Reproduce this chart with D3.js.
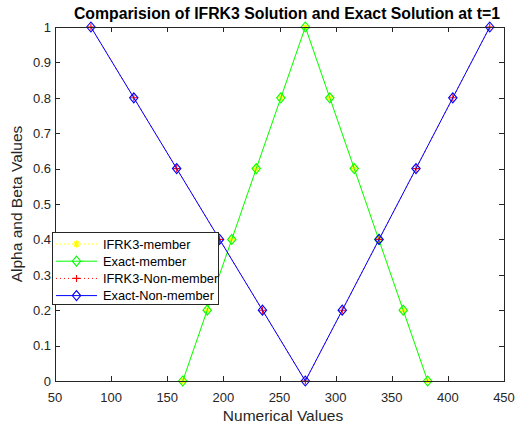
<!DOCTYPE html>
<html>
<head>
<meta charset="utf-8">
<script src="https://cdn.jsdelivr.net/npm/d3@7"></script>
<style>
  body { margin: 0; background: #fff; }
  svg { font-family: Arial, "Liberation Sans", sans-serif; }
</style>
</head>
<body>
<div id="chart"></div>
<script>
// values
const memberX = [163.8, 185.6, 207.5, 229.3, 251.2, 273.0, 294.8, 316.6, 338.4, 360.2, 382.0];
const memberIFRK3 = [0, 0.2, 0.4, 0.6, 0.8, 1, 0.8, 0.6, 0.4, 0.2, 0];
const memberExact = [0, 0.2, 0.4, 0.6, 0.8, 1, 0.8, 0.6, 0.4, 0.2, 0];
const nonMemberX = [82.0, 120.2, 158.4, 196.6, 234.8, 273.0, 305.9, 338.7, 371.6, 404.4, 437.3];
const nonMemberIFRK3 = [1, 0.8, 0.6, 0.4, 0.2, 0, 0.2, 0.4, 0.6, 0.8, 1];
const nonMemberExact = [1, 0.8, 0.6, 0.4, 0.2, 0, 0.2, 0.4, 0.6, 0.8, 1];
const xTicks = [50, 100, 150, 200, 250, 300, 350, 400, 450];
const yTicks = [0, 0.1, 0.2, 0.3, 0.4, 0.5, 0.6, 0.7, 0.8, 0.9, 1];
const seriesNames = ["IFRK3-member", "Exact-member", "IFRK3-Non-member", "Exact-Non-member"];

const W = 519, H = 425;
const margin = { top: 27, right: 15, bottom: 44, left: 55 };

const x = d3.scaleLinear().domain([50, 450]).range([margin.left, W - margin.right]);
const y = d3.scaleLinear().domain([0, 1]).range([H - margin.bottom, margin.top]);

const svg = d3.select("#chart").append("svg")
  .attr("width", W).attr("height", H);

const axisColor = "#262626";
const tickLen = 5;

// series styles (matlab: y*: g-d r+: b-d)
const series = [
  { name: seriesNames[0], xs: memberX, ys: memberIFRK3, color: "#ffff00", dash: "1,3", marker: "star" },
  { name: seriesNames[1], xs: memberX, ys: memberExact, color: "#00ff00", dash: null, marker: "diamond" },
  { name: seriesNames[2], xs: nonMemberX, ys: nonMemberIFRK3, color: "#ff0000", dash: "1,3", marker: "plus" },
  { name: seriesNames[3], xs: nonMemberX, ys: nonMemberExact, color: "#0000ff", dash: null, marker: "diamond" }
];

function drawMarker(g, type, cx, cy, color) {
  if (type === "diamond") {
    g.append("path")
      .attr("d", `M${cx},${cy - 5}L${cx + 4.2},${cy}L${cx},${cy + 5}L${cx - 4.2},${cy}Z`)
      .attr("fill", "none").attr("stroke", color).attr("stroke-width", 1.1);
  } else if (type === "plus") {
    g.append("path")
      .attr("d", `M${cx - 3.5},${cy}H${cx + 3.5}M${cx},${cy - 3.5}V${cy + 3.5}`)
      .attr("stroke", color).attr("stroke-width", 1.1);
  } else if (type === "star") {
    const r = 3.5, d = 2.5;
    g.append("path")
      .attr("d", `M${cx - r},${cy}H${cx + r}M${cx},${cy - r}V${cy + r}` +
        `M${cx - d},${cy - d}L${cx + d},${cy + d}M${cx - d},${cy + d}L${cx + d},${cy - d}`)
      .attr("stroke", color).attr("stroke-width", 1.1);
  }
}

const plotL = x(50), plotR = x(450), plotT = y(1), plotB = y(0);

const line = d3.line();

const plotG = svg.append("g");
series.forEach(s => {
  const pts = s.xs.map((v, i) => [x(v), y(s.ys[i])]);
  plotG.append("path")
    .attr("d", line(pts))
    .attr("fill", "none")
    .attr("stroke", s.color)
    .attr("stroke-width", 1)
    .attr("stroke-dasharray", s.dash);
  const mg = plotG.append("g");
  pts.forEach(p => drawMarker(mg, s.marker, p[0], p[1], s.color));
});

// axes box + inward ticks
const axG = svg.append("g").attr("font-size", 13).attr("fill", axisColor);

axG.append("rect")
  .attr("x", plotL).attr("y", plotT)
  .attr("width", plotR - plotL).attr("height", plotB - plotT)
  .attr("fill", "none").attr("stroke", axisColor).attr("stroke-width", 1)
  .attr("shape-rendering", "crispEdges");

xTicks.forEach(t => {
  const px = Math.round(x(t)) + 0.5;
  axG.append("line").attr("x1", px).attr("x2", px).attr("y1", plotB).attr("y2", plotB - tickLen)
    .attr("stroke", axisColor);
  axG.append("line").attr("x1", px).attr("x2", px).attr("y1", plotT).attr("y2", plotT + tickLen)
    .attr("stroke", axisColor);
  axG.append("text").attr("x", x(t)).attr("y", plotB + 21)
    .attr("text-anchor", "middle").text(t);
});

yTicks.forEach(t => {
  const py = Math.round(y(t)) + 0.5;
  axG.append("line").attr("x1", plotL).attr("x2", plotL + tickLen).attr("y1", py).attr("y2", py)
    .attr("stroke", axisColor);
  axG.append("line").attr("x1", plotR).attr("x2", plotR - tickLen).attr("y1", py).attr("y2", py)
    .attr("stroke", axisColor);
  axG.append("text").attr("x", plotL - 4).attr("y", y(t) + 4.7)
    .attr("text-anchor", "end").text(d3.format("~g")(t));
});

// labels
svg.append("text")
  .attr("x", 283).attr("y", 421)
  .attr("text-anchor", "middle").attr("font-size", 15.5).attr("fill", axisColor)
  .text("Numerical Values");

svg.append("text")
  .attr("transform", `translate(22,${(plotT + plotB) / 2}) rotate(-90)`)
  .attr("text-anchor", "middle").attr("font-size", 15.5).attr("fill", axisColor)
  .text("Alpha and Beta Values");

svg.append("text")
  .attr("x", 287).attr("y", 19)
  .attr("text-anchor", "middle").attr("font-size", 15.8).attr("font-weight", "bold")
  .attr("fill", "#000")
  .text("Comparision of IFRK3 Solution and Exact Solution at t=1");

// legend
const lg = svg.append("g");
lg.append("rect")
  .attr("x", 52.5).attr("y", 232.5).attr("width", 166).attr("height", 72)
  .attr("fill", "#fff").attr("stroke", axisColor).attr("stroke-width", 1);
series.forEach((s, i) => {
  const ly = 244 + i * 17.2;
  lg.append("line").attr("x1", 56).attr("x2", 97).attr("y1", ly).attr("y2", ly)
    .attr("stroke", s.color).attr("stroke-width", 1).attr("stroke-dasharray", s.dash);
  drawMarker(lg, s.marker, 76.5, ly, s.color);
  lg.append("text").attr("x", 103).attr("y", ly + 4.5)
    .attr("font-size", 12.8).attr("fill", "#000").text(s.name);
});
</script>
</body>
</html>
